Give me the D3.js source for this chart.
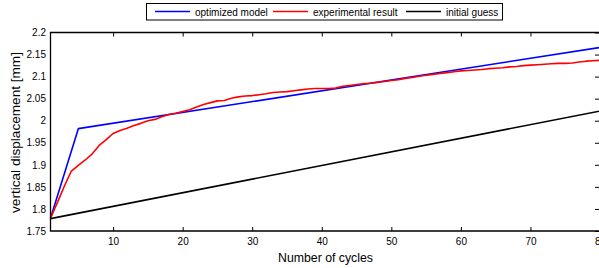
<!DOCTYPE html>
<html>
<head>
<meta charset="utf-8">
<script src="https://cdn.jsdelivr.net/npm/d3@7"></script>
<style>
  body { margin: 0; background: #fff; }
  svg { display: block; font-family: "Liberation Sans", Arial, sans-serif; }
</style>
</head>
<body>
<svg width="599" height="268"></svg>
<script>
const svg = d3.select("svg");

// data
const cycles = d3.range(1, 81);
const experimental = [
  1.779, 1.815, 1.852, 1.886, 1.899, 1.911, 1.925, 1.944, 1.957, 1.971,
  1.978, 1.983, 1.989, 1.994, 2.000, 2.003, 2.009, 2.014, 2.017, 2.021,
  2.025, 2.031, 2.037, 2.041, 2.045, 2.046, 2.051, 2.054, 2.056, 2.057,
  2.059, 2.061, 2.064, 2.065, 2.066, 2.068, 2.070, 2.072, 2.073, 2.073,
  2.073, 2.074, 2.078, 2.080, 2.082, 2.084, 2.085, 2.087, 2.089, 2.091,
  2.093, 2.096, 2.098, 2.101, 2.103, 2.105, 2.107, 2.109, 2.111, 2.113,
  2.114, 2.115, 2.116, 2.118, 2.119, 2.120, 2.122, 2.123, 2.125, 2.126,
  2.127, 2.128, 2.129, 2.130, 2.130, 2.131, 2.133, 2.135, 2.136, 2.137
];
const optimizedX = [1, 5, 80];
const optimizedY = [1.779, 1.982, 2.166];
const guessX = [1, 80];
const guessY = [1.778, 2.022];

const xTicks = [10, 20, 30, 40, 50, 60, 70, 80];
const yTicks = [1.75, 1.8, 1.85, 1.9, 1.95, 2, 2.05, 2.1, 2.15, 2.2];

const seriesNames = ["optimized model", "experimental result", "initial guess"];
const seriesColors = ["#0000ff", "#ff0000", "#000000"];

const pLeft = 50.5, pRight = 600, pTop = 32.5, pBottom = 231;

const x = d3.scaleLinear().domain([1, 80]).range([pLeft, pRight]);
const y = d3.scaleLinear().domain([1.75, 2.2]).range([pBottom, pTop]);

// frame ticks (inward)
const g = svg.append("g");

g.append("g")
    .attr("transform", `translate(0,${pBottom})`)
    .call(d3.axisBottom(x).tickValues(xTicks).tickSizeInner(-4).tickSizeOuter(0).tickPadding(6.5).tickFormat(d3.format("d")))
    .call(a => a.select(".domain").remove())
    .call(a => a.selectAll("text").attr("font-size", 10).attr("fill", "#000"));

g.append("g")
    .attr("transform", `translate(0,${pTop})`)
    .call(d3.axisTop(x).tickValues(xTicks).tickSizeInner(-4).tickSizeOuter(0).tickFormat(""))
    .call(a => a.select(".domain").remove());

g.append("g")
    .attr("transform", `translate(${pLeft},0)`)
    .call(d3.axisLeft(y).tickValues(yTicks).tickSize(0).tickPadding(4.5).tickFormat(d => String(+d.toFixed(2))))
    .call(a => a.select(".domain").remove())
    .call(a => a.selectAll("text").attr("font-size", 10).attr("fill", "#000"));

g.append("g")
    .attr("transform", `translate(${pRight},0)`)
    .call(d3.axisRight(y).tickValues(yTicks).tickSizeInner(-5).tickSizeOuter(0).tickFormat(""))
    .call(a => a.select(".domain").remove());

g.selectAll(".tick line").attr("stroke", "#000");

// data lines
const line = d3.line().x(d => x(d[0])).y(d => y(d[1]));

const series = [
  d3.zip(optimizedX, optimizedY),
  d3.zip(cycles, experimental),
  d3.zip(guessX, guessY)
];

svg.append("g")
    .selectAll("path")
    .data([series[2], series[0], series[1]])
    .enter().append("path")
    .attr("d", line)
    .attr("fill", "none")
    .attr("stroke", (d, i) => [seriesColors[2], seriesColors[0], seriesColors[1]][i])
    .attr("stroke-width", 1.6)
    .attr("stroke-linejoin", "round");

// box (left & bottom & top)
svg.append("path")
    .attr("d", `M${pRight},${pTop}H${pLeft}V${pBottom}H${pRight}`)
    .attr("fill", "none")
    .attr("stroke", "#000")
    .attr("stroke-width", 1.3);

// axis titles
svg.append("text")
    .attr("x", 325.5)
    .attr("y", 261.5)
    .attr("text-anchor", "middle")
    .attr("font-size", 12.3)
    .text("Number of cycles");

svg.append("text")
    .attr("transform", `translate(19.5,132.5) rotate(-90)`)
    .attr("text-anchor", "middle")
    .attr("font-size", 13.6)
    .text("vertical displacement [mm]");

// legend
const legend = svg.append("g");
legend.append("rect")
    .attr("x", 146.5).attr("y", 3.5)
    .attr("width", 356).attr("height", 16.5)
    .attr("fill", "#fff")
    .attr("stroke", "#000")
    .attr("stroke-width", 1);

const legendX = [155, 273, 406];
seriesNames.forEach((name, i) => {
  legend.append("line")
      .attr("x1", legendX[i]).attr("x2", legendX[i] + 35)
      .attr("y1", 11.5).attr("y2", 11.5)
      .attr("stroke", seriesColors[i])
      .attr("stroke-width", 1.6);
  legend.append("text")
      .attr("x", legendX[i] + 40)
      .attr("y", 15.5)
      .attr("font-size", 10)
      .text(name);
});
</script>
</body>
</html>
